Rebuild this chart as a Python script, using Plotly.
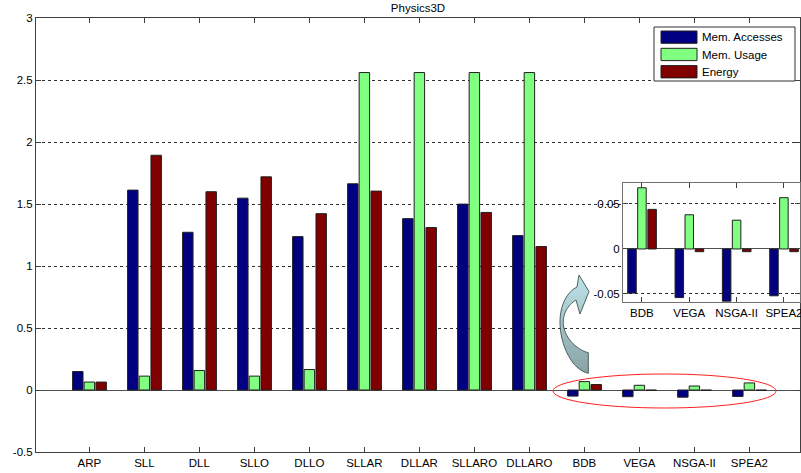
import plotly.graph_objects as go

# ---------------- data ----------------
categories = ['ARP', 'SLL', 'DLL', 'SLLO', 'DLLO', 'SLLAR', 'DLLAR', 'SLLARO',
              'DLLARO', 'BDB', 'VEGA', 'NSGA-II', 'SPEA2']
mem_accesses = [0.149, 1.612, 1.272, 1.547, 1.237, 1.663, 1.382, 1.499, 1.245,
                -0.049, -0.054, -0.058, -0.052]
mem_usage = [0.064, 0.112, 0.157, 0.112, 0.165, 2.56, 2.56, 2.56, 2.56,
             0.068, 0.038, 0.032, 0.057]
energy = [0.064, 1.893, 1.599, 1.719, 1.422, 1.604, 1.310, 1.432, 1.157,
          0.044, -0.003, -0.003, -0.003]

inset_categories = ['BDB', 'VEGA', 'NSGA-II', 'SPEA2']
inset_mem_accesses = [-0.049, -0.054, -0.058, -0.052]
inset_mem_usage = [0.068, 0.038, 0.032, 0.057]
inset_energy = [0.044, -0.003, -0.003, -0.003]

main_yticks = [-0.5, 0, 0.5, 1, 1.5, 2, 2.5, 3]
main_yticktext = ['-0.5', '0', '0.5', '1', '1.5', '2', '2.5', '3']
inset_yticks = [-0.05, 0, 0.05]
inset_yticktext = ['-0.05', '0', '0.05']

series_names = ['Mem. Accesses', 'Mem. Usage', 'Energy']
colors = ['#000080', '#80ff80', '#800000']

# ---------------- layout helpers ----------------
W, H = 801, 473
L, R, T, B = 36, 1, 18, 21
PW, PH = W - L - R, H - T - B
FONT = 'Liberation Sans, Arial, sans-serif'
FS = 11.5
XR = [-0.97, 12.92]
YR = [-0.5, 3]


def px(x, y):
    return (x - L) / PW, (H - B - y) / PH


def px_data(x, y):
    fx, fy = px(x, y)
    return XR[0] + fx * (XR[1] - XR[0]), YR[0] + fy * (YR[1] - YR[0])


fig = go.Figure()

offsets_c = [-0.21, 0.0, 0.215]
main_w = 0.19
inset_w = 0.18
for vals, name, col, c in zip([mem_accesses, mem_usage, energy], series_names, colors, offsets_c):
    fig.add_trace(go.Bar(x=categories, y=vals, name=name, width=main_w, offset=c - main_w / 2,
                         marker=dict(color=col, line=dict(color='#202020', width=1)),
                         showlegend=False, xaxis='x', yaxis='y'))
for vals, name, col, c in zip([inset_mem_accesses, inset_mem_usage, inset_energy], series_names, colors, offsets_c):
    fig.add_trace(go.Bar(x=inset_categories, y=vals, name=name, width=inset_w, offset=c - inset_w / 2,
                         marker=dict(color=col, line=dict(color='#202020', width=1)),
                         showlegend=False, xaxis='x2', yaxis='y2'))

shapes = []
annotations = []

# white background of inset covering main gridlines (drawn between main grid and traces)
ix0, iy1 = px(623, 183)
ix1, iy0 = px(800, 302)
dx0, dy1 = px_data(623, 183)
dx1, dy0 = px_data(800, 302)
shapes.append(dict(type='rect', xref='x', yref='y', x0=dx0, x1=dx1, y0=dy0, y1=dy1,
                   fillcolor='white', line=dict(width=0), layer='between'))

# ellipse highlighting small values
ex0, ey1 = px(553, 374)
ex1, ey0 = px(776, 408)
shapes.append(dict(type='circle', xref='paper', yref='paper', x0=ex0, x1=ex1, y0=ey0, y1=ey1,
                   line=dict(color='#ff2020', width=1), layer='above'))


# curved arrow (pixel outline -> paper), with a vertical gradient
def cubic(p0, p1, p2, p3, n=16):
    pts = []
    for i in range(1, n + 1):
        t = i / n
        a = (1 - t) ** 3
        b = 3 * (1 - t) ** 2 * t
        c = 3 * (1 - t) * t ** 2
        d = t ** 3
        pts.append((a * p0[0] + b * p1[0] + c * p2[0] + d * p3[0],
                    a * p0[1] + b * p1[1] + c * p2[1] + d * p3[1]))
    return pts


start = (588.3, 352.7)
pts = [start]
pts += cubic(pts[-1], (578, 350), (566, 340), (563.5, 326))
pts += cubic(pts[-1], (562, 314), (568, 305), (576, 300))
pts += [(580, 314), (589, 291.5), (579, 275), (577, 287)]
pts += cubic(pts[-1], (567, 292), (560, 305), (560, 322))
pts += cubic(pts[-1], (560, 345), (572, 370), (588.3, 373.3))


def clip(poly, y0, y1):
    def clip_edge(poly, inside, inter):
        out = []
        for i in range(len(poly)):
            cur, prev = poly[i], poly[i - 1]
            if inside(cur):
                if not inside(prev):
                    out.append(inter(prev, cur))
                out.append(cur)
            elif inside(prev):
                out.append(inter(prev, cur))
        return out

    def iy(yv):
        def f(p, q):
            t = (yv - p[1]) / (q[1] - p[1])
            return (p[0] + t * (q[0] - p[0]), yv)
        return f

    poly = clip_edge(poly, lambda p: p[1] >= y0, iy(y0))
    if not poly:
        return poly
    poly = clip_edge(poly, lambda p: p[1] <= y1, iy(y1))
    return poly


def to_path(poly):
    s = ''
    for i, (x, y) in enumerate(poly):
        X, Y = px(x, y)
        s += ('M' if i == 0 else 'L') + f'{X:.5f},{Y:.5f}'
    return s + 'Z'


c_top = (0xbd, 0xe4, 0xea)
c_bot = (0x88, 0xa2, 0xa4)
ytop, ybot = 274, 374
nb = 14
for k in range(nb):
    y0 = ytop + (ybot - ytop) * k / nb
    y1 = ytop + (ybot - ytop) * (k + 1) / nb + 0.6
    poly = clip(pts, y0, y1)
    if len(poly) < 3:
        continue
    t = (k + 0.5) / nb
    col = tuple(int(round(c_top[j] + (c_bot[j] - c_top[j]) * t)) for j in range(3))
    shapes.append(dict(type='path', xref='paper', yref='paper', path=to_path(poly),
                       fillcolor='rgb(%d,%d,%d)' % col, line=dict(width=0), layer='above'))
shapes.append(dict(type='path', xref='paper', yref='paper', path=to_path(pts),
                   fillcolor='rgba(0,0,0,0)', line=dict(color='#4d5f61', width=1), layer='above'))

# custom legend
lx0, ly1 = px(654, 27)
lx1, ly0 = px(795, 81)
shapes.append(dict(type='rect', xref='paper', yref='paper', x0=lx0, x1=lx1, y0=ly0, y1=ly1,
                   fillcolor='white', line=dict(color='#303030', width=1), layer='above'))
for i, (name, col) in enumerate(zip(series_names, colors)):
    top = 31 + i * 17.3
    sx0, sy1 = px(661, top)
    sx1, sy0 = px(697, top + 12.3)
    shapes.append(dict(type='rect', xref='paper', yref='paper', x0=sx0, x1=sx1, y0=sy0, y1=sy1,
                       fillcolor=col, line=dict(color='#202020', width=1), layer='above'))
    tx, ty = px(700, top + 6.2)
    annotations.append(dict(text=name, xref='paper', yref='paper', x=tx, y=ty, xanchor='left',
                            yanchor='middle', showarrow=False, font=dict(family=FONT, size=FS, color='black')))

axis_common = dict(showline=True, linecolor='#404040', linewidth=1, ticks='inside', ticklen=5,
                   tickcolor='#404040', tickfont=dict(family=FONT, size=FS, color='black'),
                   mirror='ticks', automargin=False)

fig.update_layout(
    width=W, height=H,
    margin=dict(l=L, r=R, t=T, b=B, pad=0, autoexpand=False),
    paper_bgcolor='white', plot_bgcolor='white',
    barmode='overlay',
    showlegend=False,
    title=dict(text='Physics3D', x=0.5, xref='paper', y=1 - 8 / H, yref='container',
               xanchor='center', yanchor='middle', font=dict(family=FONT, size=FS, color='black'),
               automargin=False),
    font=dict(family=FONT, size=FS, color='black'),
    xaxis=dict(domain=[0, 1], range=XR, showgrid=False, zeroline=False,
               type='category', categoryorder='array', categoryarray=categories, **axis_common),
    yaxis=dict(domain=[0, 1], range=YR, tickvals=main_yticks, ticktext=main_yticktext,
               showgrid=True, gridcolor='#303030', gridwidth=1, griddash='3px,3px',
               zeroline=True, zerolinecolor='#505050', zerolinewidth=1, **axis_common),
    xaxis2=dict(domain=[ix0, ix1], range=[-0.4, 3.34], anchor='y2', showgrid=False, zeroline=False,
                type='category', categoryorder='array', categoryarray=inset_categories,
                **{**axis_common, 'linecolor': '#707070'}),
    yaxis2=dict(domain=[iy0, iy1], range=[-0.0589, 0.0733], anchor='x2', tickvals=inset_yticks,
                ticktext=inset_yticktext, showgrid=True, gridcolor='#303030', gridwidth=1,
                griddash='3px,3px', zeroline=True, zerolinecolor='#505050', zerolinewidth=1,
                **{**axis_common, 'linecolor': '#707070'}),
    shapes=shapes,
    annotations=annotations,
)

fig.write_html('out.html', config={'displayModeBar': False},
               post_script="document.body.style.margin='0';document.body.style.padding='0';"
                           "document.body.style.overflow='hidden';")
